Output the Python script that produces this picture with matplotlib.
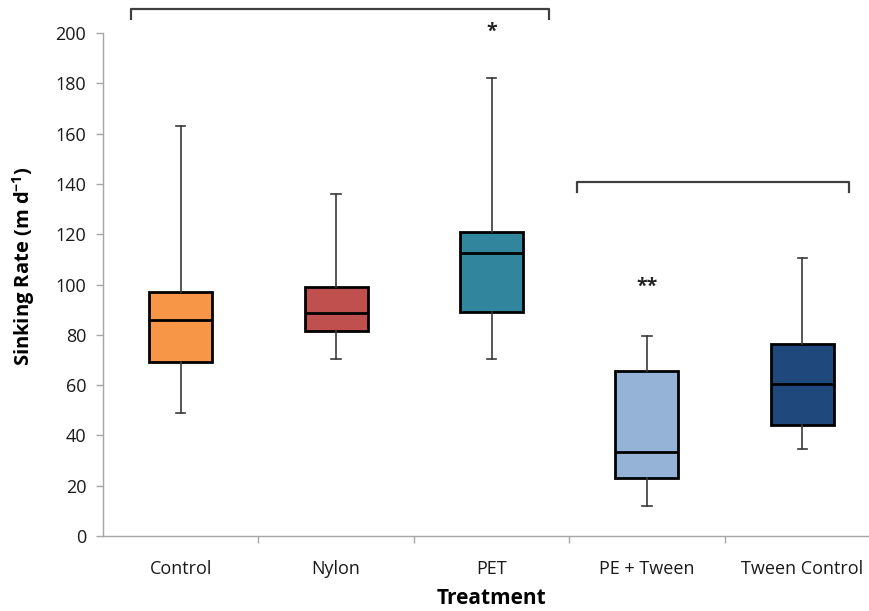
import matplotlib
matplotlib.use("Agg")
import matplotlib.pyplot as plt

categories = ["Control", "Nylon", "PET", "PE + Tween", "Tween Control"]
whislo = [49, 70.5, 70.5, 12, 34.5]
q1 = [69, 81.5, 89, 23, 44]
med = [86, 88.5, 112.5, 33.5, 60.3]
q3 = [97, 99, 121, 65.5, 76.3]
whishi = [163, 136, 182, 79.5, 110.5]
colors = ["#F79646", "#C0504D", "#31859C", "#95B3D7", "#1F497D"]

plt.rcParams['font.family'] = ['Open Sans', 'DejaVu Sans']
plt.rcParams['mathtext.fontset'] = 'custom'
plt.rcParams['mathtext.rm'] = 'Open Sans'
plt.rcParams['mathtext.bf'] = 'Open Sans:bold'

fig = plt.figure(figsize=(8.7, 6.11), dpi=100)
ax = fig.add_axes([103/870, 75/611, 777/870, 503/611])

stats = []
for i, c in enumerate(categories):
    stats.append(dict(label=c, whislo=whislo[i], q1=q1[i], med=med[i],
                      q3=q3[i], whishi=whishi[i], fliers=[]))

bp = ax.bxp(stats, positions=range(1, 6), widths=0.405, patch_artist=True,
            showfliers=False,
            boxprops=dict(edgecolor='black', linewidth=2),
            medianprops=dict(color='black', linewidth=2),
            whiskerprops=dict(color='#3a3a3a', linewidth=1.2),
            capprops=dict(color='#3a3a3a', linewidth=1.2),
            capwidths=0.06)
for patch, col in zip(bp['boxes'], colors):
    patch.set_facecolor(col)

ax.set_xlim(0.5, 5.5)
ax.set_ylim(0, 200)
ax.set_yticks(range(0, 201, 20))
ax.set_xticks(range(1, 6))
ax.set_xticklabels(categories, fontsize=13, color='#1a1a1a')
ax.set_xticks([1.5, 2.5, 3.5, 4.5], minor=True)
ax.tick_params(axis='x', which='major', length=0, pad=17)
ax.tick_params(axis='x', which='minor', length=5, color='#a6a6a6', width=1)
ax.tick_params(axis='y', length=5, color='#a6a6a6', width=1, labelsize=13,
               labelcolor='#1a1a1a', pad=7)
for s in ['top', 'right']:
    ax.spines[s].set_visible(False)
for s in ['left', 'bottom']:
    ax.spines[s].set_color('#a6a6a6')
    ax.spines[s].set_linewidth(1)

ax.set_ylabel(r'Sinking Rate (m d$^{\mathbf{-1}}$)', fontsize=14.5, fontweight='bold')
ax.yaxis.set_label_coords(-0.085, 0.537)
ax.set_xlabel('Treatment', fontsize=15, fontweight='bold')
ax.xaxis.set_label_coords(0.5, -0.104)

# brackets
bc = '#404040'
ax.plot([0.68, 0.68, 3.373, 3.373], [205.5, 209.5, 209.5, 205.5], color=bc, lw=1.6, clip_on=False)
ax.plot([3.551, 3.551, 5.298, 5.298], [136.7, 140.9, 140.9, 136.7], color=bc, lw=1.6, clip_on=False)
ax.text(3, 200.5, '*', ha='center', va='center', fontsize=14, fontweight='bold', color='#222222')
ax.text(4, 99, '**', ha='center', va='center', fontsize=14, fontweight='bold', color='#222222')

fig.savefig('out.png', dpi=100)
